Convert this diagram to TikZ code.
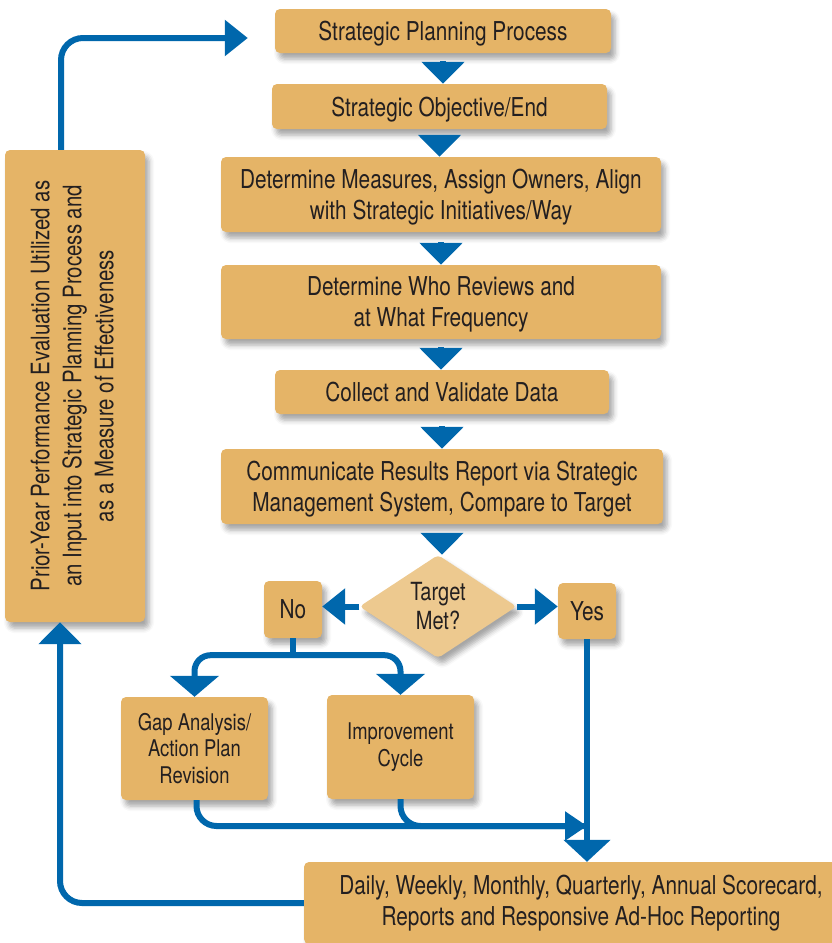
\documentclass[tikz,border=0pt]{standalone}
\usepackage{fontspec}
\usepackage{graphicx}
\setmainfont{TeX Gyre Heros}[FakeStretch=0.8]
\usetikzlibrary{arrows.meta,shapes.geometric,shadows.blur,calc}
\definecolor{boxc}{HTML}{E5B467}
\definecolor{diac}{HTML}{EDC98F}
\definecolor{bluec}{HTML}{0067AC}
\definecolor{txtc}{HTML}{231F20}
\begin{document}
\begin{tikzpicture}[x=1pt,y=-1pt,
  shad/.style={blur shadow={shadow xshift=4pt, shadow yshift=-6pt, shadow blur radius=5pt, shadow opacity=35}},
  box/.style={shad, fill=boxc, rounded corners=5pt, inner sep=0pt, align=center, text=txtc, font=\fontsize{26}{31}\selectfont},
  chainbox/.style={box, text depth=0pt},
  smallbox/.style={box, font=\fontsize{23}{26.5}\selectfont},
  dia/.style={shad, diamond, fill=diac, rounded corners=4pt, inner sep=0pt, align=center, text=txtc, font=\fontsize{25}{29}\selectfont},
  conn/.style={draw=bluec, line width=6pt},
  tipA/.style={conn, -{Triangle[width=42pt,length=22pt]}},
  tipB/.style={conn, -{Triangle[width=35pt,length=23pt]}},
  tipC/.style={conn, -{Triangle[width=48pt,length=21pt]}},
  tipD/.style={conn, -{Triangle[width=28pt,length=22pt]}},
]
\useasboundingbox (0,0) rectangle (831,943);

\node[chainbox, minimum width=336pt, minimum height=44pt] (spp) at (443,31) {Strategic Planning Process};
\node[chainbox, minimum width=335pt, minimum height=45pt] (obj) at (439.5,106.5) {Strategic Objective/End};
\node[chainbox, minimum width=440pt, minimum height=75pt] (meas) at (441,194.5) {Determine Measures, Assign Owners, Align\\with Strategic Initiatives/Way};
\node[chainbox, minimum width=440pt, minimum height=74pt] (who) at (441,302) {Determine Who Reviews and\\at What Frequency};
\node[chainbox, minimum width=334pt, minimum height=44pt] (coll) at (442,392) {Collect and Validate Data};
\node[chainbox, minimum width=442pt, minimum height=75pt] (comm) at (442,486.5) {Communicate Results Report via Strategic\\Management System, Compare to Target};
\node[dia, minimum width=157pt, minimum height=93pt] (tgt) at (438,606.5) {Target\\Met?};
\node[box, minimum width=58pt, minimum height=57pt] (no) at (293,609.5) {No};
\node[box, minimum width=58pt, minimum height=56pt] (yes) at (587,611) {Yes};
\node[smallbox, minimum width=147pt, minimum height=103pt] (gap) at (194.5,748.5) {Gap Analysis/\\Action Plan\\Revision};
\node[smallbox, minimum width=147pt, minimum height=104pt] (imp) at (400.5,747) {Improvement\\Cycle};
\node[box, minimum width=554pt, minimum height=82pt] (rep) at (581,903) {Daily, Weekly, Monthly, Quarterly, Annual Scorecard,\\Reports and Responsive Ad-Hoc Reporting};
\node[box, minimum width=140pt, minimum height=472pt] (prior) at (75,386) {\rotatebox{90}{\fontsize{25.5}{32}\selectfont\begin{tabular}{@{}c@{}}Prior-Year Performance Evaluation Utilized as\\an Input into Strategic Planning Process and\\as a Measure of Effectiveness\end{tabular}}};

% vertical chain
\draw[tipA, shorten <=8pt] (spp.south) -- (spp.south |- obj.north);
\draw[tipA, shorten <=6pt] (obj.south) -- (obj.south |- meas.north);
\draw[tipA, shorten <=10pt] (meas.south) -- (who.north);
\draw[tipA, shorten <=8pt] (who.south) -- (who.south |- coll.north);
\draw[tipA, shorten <=12pt] (coll.south) -- (coll.south |- comm.north);
\draw[tipA, shorten <=12pt] (comm.south) -- (comm.south |- tgt.north);

% decision
\draw[tipB] (tgt.west) -- (no.east |- tgt.west);
\draw[tipB] (tgt.east) -- (yes.west |- tgt.east);

% No branches
\draw[conn] (no.south) -- ++(0,17) coordinate (nb);
\draw[tipC, rounded corners=16pt] (nb) -| (gap.north);
\draw[tipC, rounded corners=16pt] (nb) -| (imp.north);

% Yes down to reports
\draw[conn, -{Triangle[width=46pt,length=22pt]}] (yes.south) -- (yes.south |- rep.north);

% merge into Yes line
\coordinate (mrg) at (587,826);
\draw[conn, rounded corners=20pt] ([xshift=2pt]gap.south) |- (mrg);
\draw[tipD, rounded corners=20pt] (imp.south) |- (mrg);

% feedback loop
\draw[tipA, rounded corners=22pt] (rep.west) -| ([xshift=-15pt]prior.south);
\draw[tipB, rounded corners=22pt, shorten >=27pt] ([xshift=-14pt]prior.north) |- ([yshift=-7pt]spp.west);
\end{tikzpicture}
\end{document}
